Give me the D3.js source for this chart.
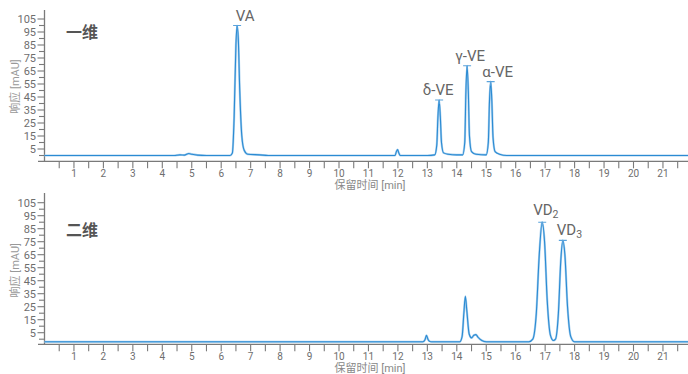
<!DOCTYPE html>
<html>
<head>
<meta charset="utf-8">
<script src="https://cdn.jsdelivr.net/npm/d3@7"></script>
<style>
  body { margin: 0; background: #fff; }
  svg { font-family: Roboto, "Noto Sans CJK SC", sans-serif; }
</style>
</head>
<body>
<svg id="chart" width="688" height="374"></svg>
<script>
// --- data ---
// upper trace (1D): retention time [min] and response [mAU]
const timeTop = [0, 4.4, 4.6, 4.75, 4.9, 5.0, 5.2, 5.5, 6.3, 6.38, 6.44, 6.5, 6.54, 6.58, 6.63, 6.7, 6.78, 6.9, 7.3, 7.6,
  11.9, 11.95, 11.99, 12.03, 12.08, 13.0, 13.25, 13.32, 13.36, 13.4, 13.44, 13.48, 13.55, 13.7, 14.0,
  14.2, 14.27, 14.31, 14.35, 14.39, 14.43, 14.5, 14.65, 15.0, 15.07, 15.11, 15.15, 15.19, 15.23, 15.3, 15.45, 15.7, 22];
const respTop = [0, 0, 0.5, 0.3, 1.5, 1.0, 0.3, 0, 0, 2, 30, 85, 100, 90, 50, 15, 4, 1, 0.5, 0,
  0, 3, 4.5, 2, 0, 0, 0.5, 8, 30, 42.7, 30, 10, 2, 1, 0.5,
  0.5, 10, 50, 69, 50, 15, 3, 1, 0.5, 10, 42, 56.8, 42, 14, 3, 1, 0, 0];

// lower trace (2D)
const timeBottom = [0, 12.85, 12.92, 12.97, 13.02, 13.07, 13.15, 14.1, 14.18, 14.24, 14.29, 14.34, 14.42, 14.5, 14.58, 14.65,
  14.72, 14.85, 15.0, 16.45, 16.58, 16.7, 16.8, 16.9, 16.98, 17.07, 17.18, 17.28, 17.35, 17.45, 17.53, 17.6, 17.67,
  17.76, 17.87, 18.0, 22];
const respBottom = [-2, -2, -0.5, 3, 0, -1.5, -2, -2, 2, 20, 33, 22, 4, 1, 3, 3.5,
  1.5, -1, -2, -2, 0, 20, 65, 90, 75, 30, 3, -1, 0, 20, 60, 76, 65,
  25, 2, -2, -2];

// named peaks
const peaksTop = ['VA', 'δ-VE', 'γ-VE', 'α-VE'];
const peakTimesTop = [6.54, 13.4, 14.35, 15.15];
const peakRespTop = [100, 42.7, 69, 56.8];

const peaksBottom = [['VD', '2'], ['VD', '3']];
const peakTimesBottom = [16.9, 17.6];
const peakRespBottom = [90, 76];

const yTickValues = d3.range(0, 106, 5);
const yLabelValues = [5, 15, 25, 35, 45, 55, 65, 75, 85, 95, 105];
const xTickValues = d3.range(0.5, 22, 0.5);
const xTitle = '保留时间 [min]';
const yTitle = '响应 [mAU]';

class Chromatogram {

  constructor(_config, _times, _resp) {
    this.config = _config;
    this.data = _times.map((t, i) => ({ t: t, v: _resp[i] }));
    this.initVis();
  }

  initVis() {
    let vis = this;
    let c = vis.config;

    vis.svg = d3.select('#chart');
    vis.g = vis.svg.append('g');

    vis.xScale = d3.scaleLinear().domain([0, 22]).range([44.5, 44.5 + 22 * 29.45]);
    vis.yScale = d3.scaleLinear().domain([0, 105]).range([c.zeroY, c.zeroY - 105 * 1.3]);

    const axisCol = '#7a7a7a';
    const textCol = '#6e6e6e';

    // y axis
    vis.g.append('line')
      .attr('x1', 44.5).attr('x2', 44.5)
      .attr('y1', c.top).attr('y2', c.axisY)
      .attr('stroke', axisCol).attr('stroke-width', 1.3);

    vis.g.selectAll('.ytick')
      .data(yTickValues)
      .join('line')
      .attr('x1', d => yLabelValues.includes(d) ? 37.5 : 39)
      .attr('x2', 44.5)
      .attr('y1', d => vis.yScale(d)).attr('y2', d => vis.yScale(d))
      .attr('stroke', axisCol).attr('stroke-width', 1.1);

    vis.g.selectAll('.ylab')
      .data(yLabelValues)
      .join('text')
      .attr('x', 36)
      .attr('y', d => vis.yScale(d))
      .attr('dy', '0.36em')
      .attr('text-anchor', 'end')
      .attr('fill', textCol)
      .style('font-size', '11px')
      .text(d => d);

    // x axis
    vis.g.append('line')
      .attr('x1', 38).attr('x2', 688)
      .attr('y1', c.axisY).attr('y2', c.axisY)
      .attr('stroke', axisCol).attr('stroke-width', 1.3);

    vis.g.selectAll('.xtick')
      .data(xTickValues)
      .join('line')
      .attr('x1', d => vis.xScale(d)).attr('x2', d => vis.xScale(d))
      .attr('y1', c.axisY).attr('y2', c.axisY + 7)
      .attr('stroke', axisCol).attr('stroke-width', 1.1);

    vis.g.selectAll('.xlab')
      .data(xTickValues.filter(d => Number.isInteger(d)))
      .join('text')
      .attr('x', d => vis.xScale(d))
      .attr('y', c.axisY + 12)
      .attr('dy', '0.36em')
      .attr('text-anchor', 'middle')
      .attr('fill', textCol)
      .style('font-size', '10px')
      .text(d => d);

    // axis titles
    vis.g.append('text')
      .attr('x', 370).attr('y', c.axisY + 23.5)
      .attr('dy', '0.36em')
      .attr('text-anchor', 'middle')
      .attr('fill', '#888')
      .style('font-size', '11px')
      .text(xTitle);

    vis.g.append('text')
      .attr('transform', `translate(15,${c.zeroY - 69}) rotate(-90)`)
      .attr('dy', '0.36em')
      .attr('text-anchor', 'middle')
      .attr('fill', '#999')
      .style('font-size', '11px')
      .text(yTitle);

    // panel name
    vis.g.append('text')
      .attr('x', 66).attr('y', c.nameY)
      .attr('dy', '0.36em')
      .attr('fill', '#555')
      .style('font-size', '16px')
      .style('font-weight', 'bold')
      .style('font-family', '"Noto Sans CJK SC", sans-serif')
      .text(c.name);

    vis.renderVis();
  }

  renderVis() {
    let vis = this;
    let c = vis.config;

    const line = d3.line()
      .x(d => vis.xScale(d.t))
      .y(d => vis.yScale(d.v))
      .curve(d3.curveMonotoneX);

    // faint wide underlay, then the trace itself
    vis.g.append('path')
      .datum(vis.data)
      .attr('d', line)
      .attr('fill', 'none')
      .attr('stroke', '#a9d0ee')
      .attr('stroke-width', 2.2);

    vis.g.append('path')
      .datum(vis.data)
      .attr('d', line)
      .attr('fill', 'none')
      .attr('stroke', '#2b8bd3')
      .attr('stroke-width', 1.1);

    // apex markers
    c.peakTimes.forEach((t, i) => {
      const px = vis.xScale(t), py = vis.yScale(c.peakResp[i]);
      vis.g.append('path')
        .attr('d', `M${px - 4},${py} L${px + 4},${py} M${px},${py} L${px},${py + 4}`)
        .attr('stroke', '#5aa3dc').attr('stroke-width', 1.1).attr('fill', 'none');
    });
  }
}

const top1 = new Chromatogram({
  top: 10, zeroY: 155.5, axisY: 161.3, nameY: 32, name: '一维',
  peakTimes: peakTimesTop, peakResp: peakRespTop
}, timeTop, respTop);

const bottom2 = new Chromatogram({
  top: 193, zeroY: 339.2, axisY: 344.3, nameY: 230, name: '二维',
  peakTimes: peakTimesBottom, peakResp: peakRespBottom
}, timeBottom, respBottom);

// peak names (offsets are only layout)
const labelDxTop = [8, -1, 3, 7];
peaksTop.forEach((name, i) => {
  d3.select('#chart').append('text')
    .attr('x', top1.xScale(peakTimesTop[i]) + labelDxTop[i])
    .attr('y', top1.yScale(peakRespTop[i]) - 5)
    .attr('text-anchor', 'middle')
    .attr('fill', '#666')
    .style('font-size', '15px')
    .text(name);
});

const labelDxBottom = [-9, -6];
const labelDyBottom = [-7, -5];
peaksBottom.forEach((name, i) => {
  const t = d3.select('#chart').append('text')
    .attr('x', bottom2.xScale(peakTimesBottom[i]) + labelDxBottom[i])
    .attr('y', bottom2.yScale(peakRespBottom[i]) + labelDyBottom[i])
    .attr('fill', '#666')
    .style('font-size', '15px');
  t.append('tspan').text(name[0]);
  t.append('tspan').attr('dy', 3).style('font-size', '10.5px').text(name[1]);
});
</script>
</body>
</html>
